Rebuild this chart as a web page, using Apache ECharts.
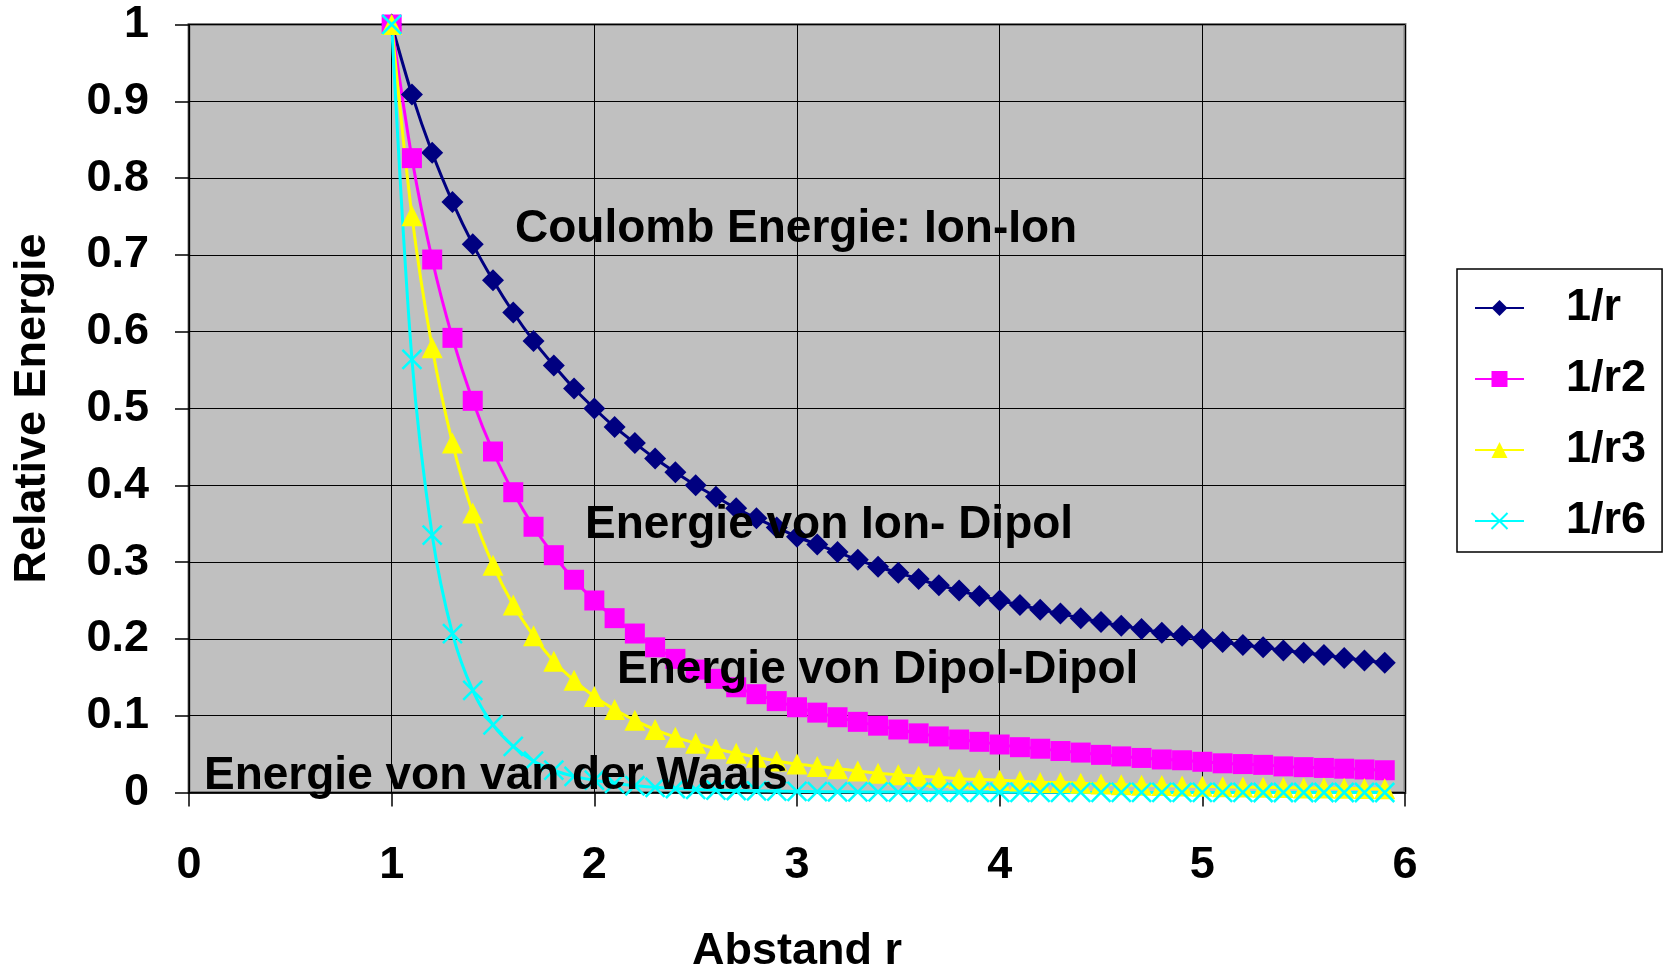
<!DOCTYPE html>
<html>
<head>
<meta charset="utf-8">
<script src="https://cdn.jsdelivr.net/npm/echarts@6/dist/echarts.min.js"></script>
<style>
  html, body { margin: 0; padding: 0; background: #fff; }
  #chart { width: 1668px; height: 968px; }
</style>
</head>
<body>
<div id="chart"></div>
<script>
// Abstand r
const rValues = [1.0, 1.1, 1.2, 1.3, 1.4, 1.5, 1.6, 1.7, 1.8, 1.9,
  2.0, 2.1, 2.2, 2.3, 2.4, 2.5, 2.6, 2.7, 2.8, 2.9,
  3.0, 3.1, 3.2, 3.3, 3.4, 3.5, 3.6, 3.7, 3.8, 3.9,
  4.0, 4.1, 4.2, 4.3, 4.4, 4.5, 4.6, 4.7, 4.8, 4.9,
  5.0, 5.1, 5.2, 5.3, 5.4, 5.5, 5.6, 5.7, 5.8, 5.9]

// Relative Energie je Kurve
const invR = [1, 0.909, 0.833, 0.769, 0.714, 0.667, 0.625, 0.588, 0.556, 0.526,
  0.5, 0.476, 0.455, 0.435, 0.417, 0.4, 0.385, 0.37, 0.357, 0.345,
  0.333, 0.323, 0.313, 0.303, 0.294, 0.286, 0.278, 0.27, 0.263, 0.256,
  0.25, 0.244, 0.238, 0.233, 0.227, 0.222, 0.217, 0.213, 0.208, 0.204,
  0.2, 0.196, 0.192, 0.189, 0.185, 0.182, 0.179, 0.175, 0.172, 0.169]
const invR2 = [1, 0.826, 0.694, 0.592, 0.51, 0.444, 0.391, 0.346, 0.309, 0.277,
  0.25, 0.227, 0.207, 0.189, 0.174, 0.16, 0.148, 0.137, 0.128, 0.119,
  0.111, 0.104, 0.098, 0.092, 0.087, 0.082, 0.077, 0.073, 0.069, 0.066,
  0.0625, 0.059, 0.057, 0.054, 0.052, 0.049, 0.047, 0.045, 0.043, 0.042,
  0.04, 0.038, 0.037, 0.036, 0.034, 0.033, 0.032, 0.031, 0.03, 0.029]
const invR3 = [1, 0.751, 0.579, 0.455, 0.364, 0.296, 0.244, 0.204, 0.171, 0.146,
  0.125, 0.108, 0.094, 0.082, 0.072, 0.064, 0.057, 0.051, 0.046, 0.041,
  0.037, 0.034, 0.031, 0.028, 0.025, 0.023, 0.021, 0.02, 0.018, 0.017,
  0.016, 0.015, 0.013, 0.013, 0.012, 0.011, 0.01, 0.0096, 0.009, 0.0085,
  0.008, 0.0075, 0.0071, 0.0067, 0.0064, 0.006, 0.0057, 0.0054, 0.0051, 0.0049]
const invR6 = [1, 0.564, 0.335, 0.207, 0.133, 0.088, 0.06, 0.041, 0.029, 0.021,
  0.016, 0.012, 0.0088, 0.0068, 0.0052, 0.0041, 0.0032, 0.0026, 0.0021, 0.0017,
  0.0014, 0.0011, 0.0009, 0.0008, 0.0007, 0.0005, 0.0005, 0.0004, 0.0003, 0.0003,
  0.0002, 0.0002, 0.0002, 0.0002, 0.0001, 0.0001, 0.0001, 0.0001, 0.0001, 0.0001,
  0.0001, 0.0001, 0.0001, 0, 0, 0, 0, 0, 0, 0]

const seriesNames = ['1/r', '1/r2', '1/r3', '1/r6']
const xTicks = [0, 6, 1] // min, max, interval
const yTicks = [0, 1, 0.1]

const FONT = "'Liberation Sans', Arial, sans-serif"
const crossPath = 'path://M0,0L10,10M10,0L0,10'

function pairs (ys) {
  return rValues.map((r, i) => [r, ys[i]])
}

function makeSeries (name, ys, color, symbol, size) {
  return {
    name: name,
    type: 'line',
    data: pairs(ys),
    smooth: 0.3,
    symbol: symbol,
    symbolSize: size,
    showAllSymbol: true,
    lineStyle: { color: color, width: 3 },
    itemStyle: symbol === crossPath
      ? { color: color, borderColor: color, borderWidth: 2.5 }
      : { color: color, borderWidth: 0 },
    emphasis: { disabled: true },
    animation: false
  }
}

const chart = echarts.init(document.getElementById('chart'))
chart.setOption({
  backgroundColor: '#ffffff',
  animation: false,
  textStyle: { fontFamily: FONT },
  grid: {
    left: 189,
    right: 263,
    top: 24.5,
    bottom: 175.5,
    outerBoundsMode: 'none',
    containLabel: false,
    show: true,
    backgroundColor: '#C0C0C0',
    borderColor: '#808080',
    borderWidth: 3
  },
  legend: {
    orient: 'vertical',
    left: 1457,
    top: 269,
    padding: [14, 16, 6, 17],
    itemGap: 21,
    itemWidth: 49,
    itemHeight: 20,
    borderColor: '#000000',
    borderWidth: 1.5,
    backgroundColor: '#ffffff',
    data: seriesNames,
    textStyle: { fontFamily: FONT, fontSize: 45, fontWeight: 'bold', color: '#000', lineHeight: 50, padding: [0, 0, 0, 37] }
  },
  xAxis: {
    type: 'value',
    min: xTicks[0],
    max: xTicks[1],
    interval: xTicks[2],
    name: 'Abstand r',
    nameLocation: 'middle',
    nameGap: 137,
    nameTextStyle: { fontFamily: FONT, fontSize: 45, fontWeight: 'bold', color: '#000' },
    axisLine: { show: true, lineStyle: { color: '#000', width: 1.5 } },
    axisTick: { show: true, length: 14, lineStyle: { color: '#000', width: 1.5 } },
    axisLabel: { margin: 51, fontFamily: FONT, fontSize: 45, fontWeight: 'bold', color: '#000' },
    splitLine: { show: true, lineStyle: { color: '#000', width: 1 } }
  },
  yAxis: {
    type: 'value',
    min: yTicks[0],
    max: yTicks[1],
    interval: yTicks[2],
    name: 'Relative Energie',
    nameLocation: 'middle',
    nameRotate: 90,
    nameGap: 134,
    nameTextStyle: { fontFamily: FONT, fontSize: 45, fontWeight: 'bold', color: '#000' },
    axisLine: { show: true, lineStyle: { color: '#000', width: 1.5 } },
    axisTick: { show: true, length: 14, lineStyle: { color: '#000', width: 1.5 } },
    axisLabel: { margin: 40, fontFamily: FONT, fontSize: 45, fontWeight: 'bold', color: '#000' },
    splitLine: { show: true, lineStyle: { color: '#000', width: 1 } }
  },
  series: [
    makeSeries(seriesNames[0], invR, '#000080', 'diamond', 22),
    makeSeries(seriesNames[1], invR2, '#FF00FF', 'rect', 20),
    makeSeries(seriesNames[2], invR3, '#FFFF00', 'triangle', 21),
    makeSeries(seriesNames[3], invR6, '#00FFFF', crossPath, 19)
  ],
  graphic: [
    { type: 'text', left: 515, top: 227 - 21, z: 100, style: { text: 'Coulomb Energie: Ion-Ion', font: 'bold 46px ' + FONT, fill: '#000' } },
    { type: 'text', left: 585, top: 523 - 21, z: 100, style: { text: 'Energie von Ion- Dipol', font: 'bold 46px ' + FONT, fill: '#000' } },
    { type: 'text', left: 617, top: 668 - 21, z: 100, style: { text: 'Energie von Dipol-Dipol', font: 'bold 46px ' + FONT, fill: '#000' } },
    { type: 'text', left: 204, top: 774 - 21, z: 100, style: { text: 'Energie von van der Waals', font: 'bold 46px ' + FONT, fill: '#000' } }
  ]
})
</script>
</body>
</html>
